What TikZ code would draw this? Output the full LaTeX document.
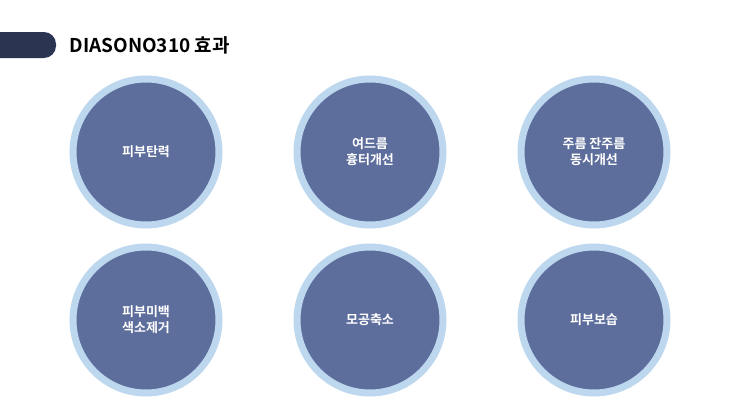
\documentclass[tikz,border=0pt]{standalone}
\usepackage{fontspec}
\newfontfamily\kr{Noto Sans CJK KR}[BoldFont={* Bold}]
\definecolor{ring}{HTML}{BDD7EE}
\definecolor{disc}{HTML}{5E6E9C}
\definecolor{navy}{HTML}{2B3552}
\tikzset{eff/.style={circle,fill=disc,draw=ring,line width=7pt,minimum size=146pt,inner sep=0pt,align=center,text=white,font=\kr\bfseries\fontsize{13}{16}\selectfont}}
\begin{document}
\begin{tikzpicture}[x=1pt,y=-1pt]
\useasboundingbox (0,0) rectangle (740,415);
\fill[navy,rounded corners=12pt] (-20,32) rectangle (56,58);
\node[anchor=west,font=\kr\bfseries\fontsize{19}{22}\selectfont,text=black] (t) at (66,45) {DIASONO310 효과};
\node[eff] (a) at (146,152) {피부탄력};
\node[eff] (b) at (370,152) {여드름\\흉터개선};
\node[eff] (c) at (594,152) {주름 잔주름\\동시개선};
\node[eff] (d) at (146,320) {피부미백\\색소제거};
\node[eff] (e) at (370,320) {모공축소};
\node[eff] (f) at (594,320) {피부보습};
\end{tikzpicture}
\end{document}
